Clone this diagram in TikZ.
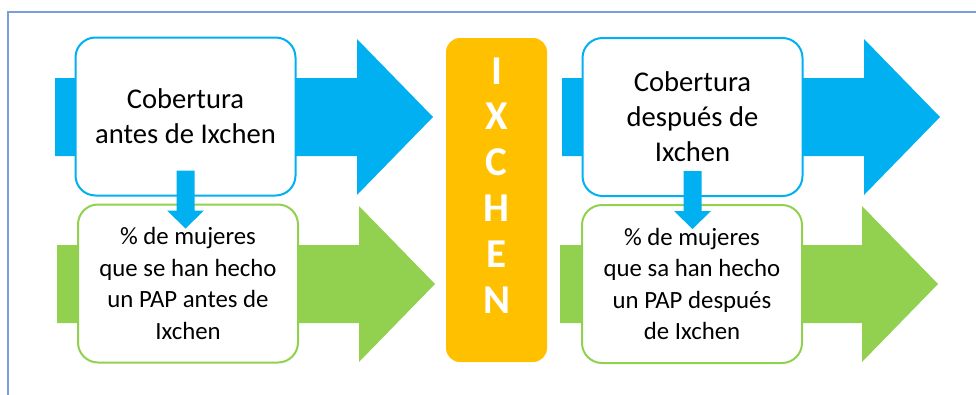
\documentclass[tikz,border=0pt]{standalone}
\usepackage{fontspec}
\setmainfont{Carlito}
\definecolor{azul}{HTML}{00B0F0}
\definecolor{verde}{HTML}{92D050}
\definecolor{naranja}{HTML}{FFC000}
\definecolor{marco}{HTML}{7A9FD8}
\begin{document}
\begin{tikzpicture}[x=1pt,y=-1pt,
        caja/.style={draw,line width=2pt,fill=white,rounded corners=20pt,
            minimum width=220pt,minimum height=158pt,align=center,inner sep=0pt},
        cajaazul/.style={caja,draw=azul,font=\fontsize{28.6}{35}\selectfont},
        cajaverde/.style={caja,draw=verde,font=\fontsize{24.8}{31.5}\selectfont},
        letra/.style={text=white,font=\fontsize{41}{41}\bfseries\selectfont,
            inner sep=0pt}]
    \useasboundingbox (0,0) rectangle (976,394);
    \draw[marco,line width=1.2pt] (8,400) -- (8,12) -- (980,12);

% flechas grandes
    \foreach \x/\y/\c in {55/117/azul,57/284/verde,562/117/azul,560/284/verde}
        \fill[\c] (\x,\y-39) -- (\x+302,\y-39) -- (\x+302,\y-78) -- (\x+378,\y)
            -- (\x+302,\y+78) -- (\x+302,\y+39) -- (\x,\y+39) -- cycle;

    \node[cajaazul] (cobA) at (185.5,116.5) {Cobertura\\antes de Ixchen};
    \node[cajaverde] (mujA) at (188,283.5)
        {\% de mujeres\\que se han hecho\\un PAP antes de\\Ixchen};

    \node[fill=naranja,rounded corners=14pt,minimum width=101pt,
        minimum height=324pt] (ixchen) at (496.5,200) {};
    \foreach \l [count=\i] in {I,X,C,H,E,N}
        \node[letra] (l\i) at (496.5,{70.8+45.8*(\i-1)}) {\l};

    \node[cajaazul] (cobD) at (692.5,117) {Cobertura\\después de\\Ixchen};
    \node[cajaverde] (mujD) at (692,284)
        {\% de mujeres\\que sa han hecho\\un PAP después\\de Ixchen};

% flechas pequenas
    \foreach \n in {cobA,cobD}
        \fill[azul] ([xshift=-9pt,yshift=26pt]\n.south)
            -- ([xshift=9pt,yshift=26pt]\n.south)
            -- ([xshift=9pt,yshift=-14pt]\n.south)
            -- ([xshift=18.5pt,yshift=-14pt]\n.south)
            -- ([yshift=-32pt]\n.south)
            -- ([xshift=-18.5pt,yshift=-14pt]\n.south)
            -- ([xshift=-9pt,yshift=-14pt]\n.south) -- cycle;
\end{tikzpicture}
\end{document}
